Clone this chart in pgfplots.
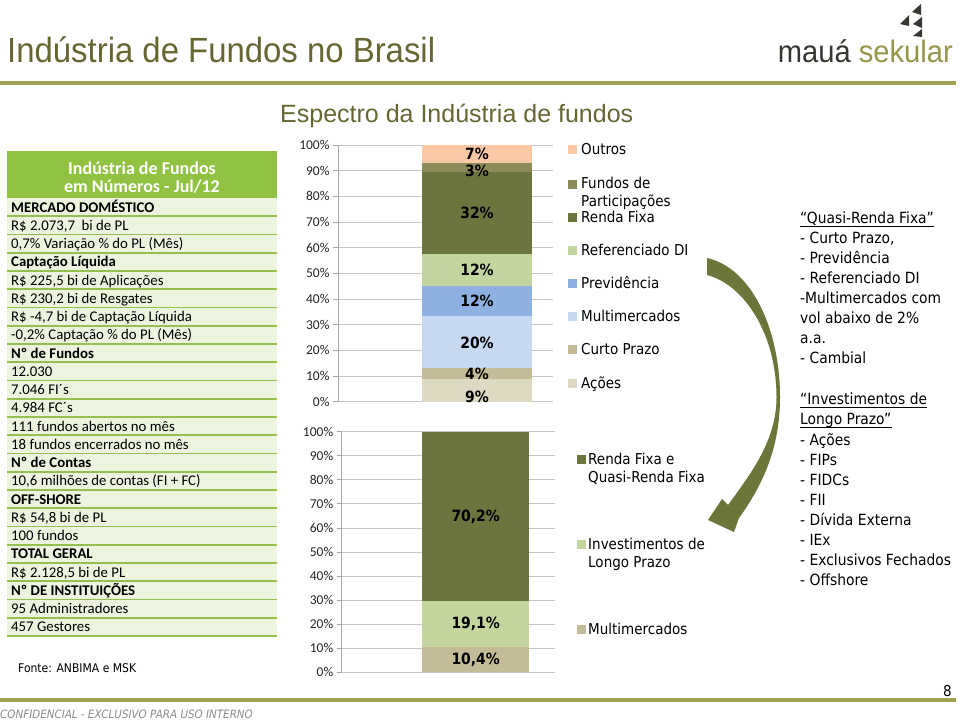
\documentclass[border=0pt]{standalone}
\usepackage{pgfplots}
\pgfplotsset{compat=1.18}
\usepackage{graphicx}
\usepackage{fontspec}
\setmainfont{Liberation Sans}
\newfontfamily\titlefont[FakeStretch=0.94]{Liberation Sans}
\newfontfamily\tah[FakeStretch=0.9]{DejaVu Sans}
\newfontfamily\calib{Carlito}
\newcommand{\fsize}[1]{\fontsize{#1}{#1}\selectfont}
\newcommand{\lblfont}{\tah\bfseries\fsize{15.5}}
\newcommand{\tickfont}{\calib\fsize{13.5}}
\definecolor{olivetitle}{RGB}{102,102,51}
\definecolor{logodark}{RGB}{55,55,50}
\definecolor{logoolive}{RGB}{150,150,75}
\definecolor{rule}{RGB}{160,160,82}
\definecolor{hdrgreen}{RGB}{146,194,66}
\definecolor{rowbg}{RGB}{236,243,222}
\definecolor{rowline}{RGB}{150,192,78}
\definecolor{cOutros}{RGB}{250,200,165}
\definecolor{cFP}{RGB}{142,139,90}
\definecolor{cRF}{RGB}{108,117,62}
\definecolor{cRef}{RGB}{196,214,160}
\definecolor{cPrev}{RGB}{141,178,226}
\definecolor{cMulti}{RGB}{198,217,240}
\definecolor{cCurto}{RGB}{196,188,150}
\definecolor{cAcoes}{RGB}{221,217,195}
\definecolor{cLP}{RGB}{196,214,158}
\definecolor{arrowc}{RGB}{108,118,58}
\newcommand{\trow}[2]{\node[anchor=base west, inner sep=0] at (11,{212+18.25*#1}) {\calib\fsize{14.8}#2};}
\newcommand{\leg}[3]{\fill[#1] (#2,{#3-4.5}) rectangle ++(9,9);}
\newcommand{\ltext}[3]{\node[anchor=base west, inner sep=0] at (#1,{#2+5.5}) {\tah\fsize{15}#3};}
\newcommand{\rtext}[2]{\node[anchor=base west, inner sep=0] at (800,{#1+5.5}) {\tah\fsize{15.4}#2};}
\pgfplotsset{myax/.style={scale only axis, ymin=0, ymax=100, ybar stacked,
  axis x line=none, axis y line*=left, ytick={0,10,...,100}, ymajorgrids,
  grid style={draw=black!22, line width=0.8pt},
  axis line style={draw=black!35, line width=0.8pt},
  ytick style={draw=black!35, line width=0.8pt},
  tick align=outside, major tick length=5pt,
  yticklabel={\pgfmathprintnumber{\tick}\%},
  /pgf/number format/assume math mode=true,
  yticklabel style={font=\tickfont, text=black!85},
  clip=false},
  labax/.style={scale only axis, ymin=0, ymax=100, hide axis, clip=false},
  labplot/.style={only marks, mark=*, mark size=0pt, mark options={draw=none, fill=none},
    nodes near coords, point meta=explicit symbolic,
    every node near coord/.append style={anchor=center, font=\lblfont, text=black, inner sep=0pt}}}
\begin{document}
\begin{tikzpicture}
\path[use as bounding box, fill=white] (0,0) rectangle (960pt,-720pt);
\begin{scope}[x=1pt,y=-1pt]
% header
\node[anchor=base west, inner sep=0, text=olivetitle] at (7,62) {\titlefont\fsize{35}Indústria de Fundos no Brasil};
\node[anchor=base east, inner sep=0] at (953,62) {\titlefont\fsize{31}\textcolor{logodark}{mauá} \textcolor{logoolive}{sekular}};
\fill[logodark] (912,12) -- (921,4) -- (921,15) -- cycle;
\fill[logodark] (900,24) -- (909,15) -- (909,26) -- cycle;
\fill[logodark] (913,24) -- (922,17) -- (922,28) -- cycle;
\fill[logodark] (913,36) -- (922,29) -- (922,37) -- cycle;
\draw[rule, line width=4pt] (0,83) -- (956,83);
\node[anchor=base west, inner sep=0, text=olivetitle] at (280,122) {\fsize{25}Espectro da Indústria de fundos};
% table
\fill[hdrgreen] (7,151) rectangle (277,198);
\fill[rowbg] (7,198) rectangle (277,636);
\foreach \i in {1,...,24} \draw[rowline, line width=1.8pt] (7,{198+18.25*\i}) -- (277,{198+18.25*\i});
\node[text=white] at (142,168) {\calib\bfseries\fsize{18}Indústria de Fundos};
\node[text=white] at (142,187) {\calib\bfseries\fsize{18}em Números - Jul/12};
\trow{0}{\bfseries MERCADO DOMÉSTICO}
\trow{1}{R\$ 2.073,7~ bi de PL}
\trow{2}{0,7\% Variação \% do PL (Mês)}
\trow{3}{\bfseries Captação Líquida}
\trow{4}{R\$ 225,5 bi de Aplicações}
\trow{5}{R\$ 230,2 bi de Resgates}
\trow{6}{R\$ -4,7 bi de Captação Líquida}
\trow{7}{-0,2\% Captação \% do PL (Mês)}
\trow{8}{\bfseries Nº de Fundos}
\trow{9}{12.030}
\trow{10}{7.046 FI´s}
\trow{11}{4.984 FC´s}
\trow{12}{111 fundos abertos no mês}
\trow{13}{18 fundos encerrados no mês}
\trow{14}{\bfseries Nº de Contas}
\trow{15}{10,6 milhões de contas (FI + FC)}
\trow{16}{\bfseries OFF-SHORE}
\trow{17}{R\$ 54,8 bi de PL}
\trow{18}{100 fundos}
\trow{19}{\bfseries TOTAL GERAL}
\trow{20}{R\$ 2.128,5 bi de PL}
\trow{21}{\bfseries Nº DE INSTITUIÇÕES}
\trow{22}{95 Administradores}
\trow{23}{457 Gestores}
\node[anchor=base west, inner sep=0] at (18,672) {\tah\fsize{12}Fonte: ANBIMA e MSK};
% top legend
\leg{cOutros}{568}{149}\ltext{581}{149}{Outros}
\leg{cFP}{568}{184}\ltext{581}{183}{Fundos de}
\ltext{581}{201}{Participações}
\leg{cRF}{568}{217}\ltext{581}{217}{Renda Fixa}
\leg{cRef}{568}{250}\ltext{581}{250}{Referenciado DI}
\leg{cPrev}{568}{283}\ltext{581}{283}{Previdência}
\leg{cMulti}{568}{316}\ltext{581}{316}{Multimercados}
\leg{cCurto}{568}{349}\ltext{581}{349}{Curto Prazo}
\leg{cAcoes}{568}{383}\ltext{581}{383}{Ações}
% bottom legend
\leg{cRF}{577}{459}\ltext{588}{459}{Renda Fixa e}
\ltext{588}{477}{Quasi-Renda Fixa}
\leg{cLP}{577}{544}\ltext{588}{544}{Investimentos de}
\ltext{588}{562}{Longo Prazo}
\leg{cCurto}{577}{629}\ltext{588}{629}{Multimercados}
% arrow
\fill[arrowc] (707,258) .. controls (752,268) and (780,330) .. (780,397)
  .. controls (780,440) and (768,478) .. (739,518) -- (734,532) -- (708,520) -- (722,499) -- (728,505)
  .. controls (752,472) and (776.5,440) .. (776.5,397)
  .. controls (776.5,335) and (745,285) .. (707,275) -- cycle;
% right text
\node[anchor=base west, inner sep=0] (q1) at (800,223.5) {\tah\fsize{15.4}“Quasi-Renda Fixa”};
\draw[black, line width=0.9pt] ([yshift=-2.5pt]q1.base west) -- ([yshift=-2.5pt]q1.base east);
\rtext{238}{- Curto Prazo,}
\rtext{258}{- Previdência}
\rtext{278}{- Referenciado DI}
\rtext{298}{-Multimercados com}
\rtext{318}{vol abaixo de 2\%}
\rtext{338}{a.a.}
\rtext{358}{- Cambial}
\node[anchor=base west, inner sep=0] (q2) at (800,404.5) {\tah\fsize{15.4}“Investimentos de};
\draw[black, line width=0.9pt] ([yshift=-2.5pt]q2.base west) -- ([yshift=-2.5pt]q2.base east);
\node[anchor=base west, inner sep=0] (q3) at (800,424.5) {\tah\fsize{15.4}Longo Prazo”};
\draw[black, line width=0.9pt] ([yshift=-2.5pt]q3.base west) -- ([yshift=-2.5pt]q3.base east);
\rtext{440}{- Ações}
\rtext{460}{- FIPs}
\rtext{480}{- FIDCs}
\rtext{500}{- FII}
\rtext{520}{- Dívida Externa}
\rtext{540}{- IEx}
\rtext{560}{- Exclusivos Fechados}
\rtext{580}{- Offshore}
% footer
\draw[rule, line width=4pt] (0,700) -- (956,700);
\node[anchor=base west, inner sep=0, text=black!45] at (0,718) {\tah\itshape\fsize{11.5}CONFIDENCIAL - EXCLUSIVO PARA USO INTERNO};
\node[anchor=base east, inner sep=0] at (952,696) {\tah\fsize{15}8};
\end{scope}
% top chart
\begin{axis}[myax, at={(338pt,-401.7pt)}, anchor=south west,
  width=215pt, height=256.7pt, xmin=0, xmax=215, bar width=110pt]
\addplot[fill=cAcoes, draw=none] coordinates {(139,8.7)};
\addplot[fill=cCurto, draw=none] coordinates {(139,4.3)};
\addplot[fill=cMulti, draw=none] coordinates {(139,20.4)};
\addplot[fill=cPrev, draw=none] coordinates {(139,11.8)};
\addplot[fill=cRef, draw=none] coordinates {(139,12.3)};
\addplot[fill=cRF, draw=none] coordinates {(139,31.8)};
\addplot[fill=cFP, draw=none] coordinates {(139,3.5)};
\addplot[fill=cOutros, draw=none] coordinates {(139,7.1)};
\end{axis}
\begin{axis}[labax, at={(338pt,-401.7pt)}, anchor=south west,
  width=215pt, height=256.7pt, xmin=0, xmax=215]
\addplot[labplot] coordinates {(139,2.0) [9\%] (139,10.8) [4\%] (139,23.1) [20\%]
  (139,39.2) [12\%] (139,51.3) [12\%] (139,73.4) [32\%] (139,90.0) [3\%] (139,96.5) [7\%]};
\end{axis}
% bottom chart
\begin{axis}[myax, at={(341.7pt,-672.3pt)}, anchor=south west,
  width=213pt, height=240.6pt, xmin=0, xmax=213, bar width=107pt]
\addplot[fill=cCurto, draw=none] coordinates {(134,10.4)};
\addplot[fill=cLP, draw=none] coordinates {(134,19.1)};
\addplot[fill=cRF, draw=none] coordinates {(134,70.2)};
\end{axis}
\begin{axis}[labax, at={(341.7pt,-672.3pt)}, anchor=south west,
  width=213pt, height=240.6pt, xmin=0, xmax=213]
\addplot[labplot] coordinates {(134,5.2) [10,4\%] (134,19.95) [19,1\%] (134,64.6) [70,2\%]};
\end{axis}
\end{tikzpicture}
\end{document}
